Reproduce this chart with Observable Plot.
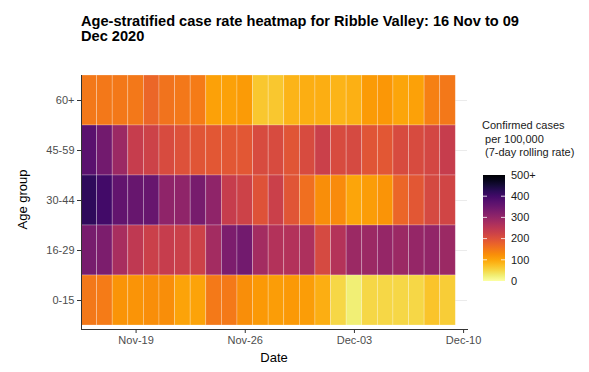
<!DOCTYPE html>
<html><head><meta charset="utf-8">
<script src="https://cdn.jsdelivr.net/npm/d3@7"></script>
<script src="https://cdn.jsdelivr.net/npm/@observablehq/plot@0.6"></script>
<style>
body{margin:0;background:#fff;font-family:"Liberation Sans",Arial,sans-serif;}
#wrap{position:relative;width:589px;height:372px;overflow:hidden;}
#title{position:absolute;left:81px;top:14px;font-weight:bold;font-size:14.6px;line-height:15px;color:#000;white-space:nowrap;}
#xlab{position:absolute;left:81px;width:386px;top:350px;text-align:center;font-size:13px;color:#000;}
#ylab{position:absolute;left:-28px;top:192px;width:100px;text-align:center;font-size:13px;color:#000;transform:rotate(-90deg);}
#chart{position:absolute;left:0;top:0;}
#legend{position:absolute;left:0;top:0;}
</style></head><body>
<div id="wrap">
<div id="chart"></div>
<div id="title">Age-stratified case rate heatmap for Ribble Valley: 16 Nov to 09<br>Dec 2020</div>
<div id="xlab">Date</div>
<div id="ylab">Age group</div>
<div id="legend"></div>
</div>
<script>
const dates = ["2020-11-16","2020-11-17","2020-11-18","2020-11-19","2020-11-20","2020-11-21","2020-11-22","2020-11-23",
  "2020-11-24","2020-11-25","2020-11-26","2020-11-27","2020-11-28","2020-11-29","2020-11-30","2020-12-01",
  "2020-12-02","2020-12-03","2020-12-04","2020-12-05","2020-12-06","2020-12-07","2020-12-08","2020-12-09"];
const ageGroups = ["60+","45-59","30-44","16-29","0-15"];
const rate60plus = [150,150,150,150,170,155,150,145,105,105,110,65, 65,85,90,90,85,88,110,115,100,105,140,150];
const rate45to59 = [370,340,290,235,225,210,200,195,190,190,190,210, 210,195,210,230,210,212,195,190,210,210,215,235];
const rate30to44 = [420,400,360,355,355,305,305,335,305,235,225,198, 230,195,160,125,128,100,108,118,170,190,212,220];
const rate16to29 = [335,330,275,245,230,235,230,225,280,330,340,280, 260,260,268,212,258,290,290,298,290,298,302,290];
const rate0to15  = [150,145,118,118,125,125,102,102,148,148,125,112, 108,112,108,90,50,25,50,50,50,50,70,60];
const xTickDates = ["2020-11-19","2020-11-26","2020-12-03","2020-12-10"];
const legendTicks = [0,100,200,300,400,500];
const legendLabels = ["0","100","200","300","400","500+"];
const legendTitle = ["Confirmed cases"," per 100,000"," (7-day rolling rate)"];

const seriesByAge = {"60+":rate60plus,"45-59":rate45to59,"30-44":rate30to44,"16-29":rate16to29,"0-15":rate0to15};
const data = ageGroups.flatMap(a => dates.map((d,i) => ({date:new Date(d), age:a, rate:seriesByAge[a][i]})));
const halfDay = 12*3600*1000;
const colorOpts = {type:"linear", scheme:"inferno", reverse:true, domain:[0,500], clamp:true};

const chart = Plot.plot({
  width:589, height:372, marginLeft:81, marginRight:122, marginTop:75, marginBottom:43,
  style:{fontFamily:"'Liberation Sans', Arial, sans-serif", fontSize:"11px", color:"#4d4d4d", background:"transparent"},
  x:{type:"utc", domain:[new Date(Date.UTC(2020,10,15,12)), new Date(Date.UTC(2020,11,10,6))], label:null},
  y:{domain:ageGroups, paddingInner:0, paddingOuter:0.04, align:0, label:null},
  color:colorOpts,
  marks:[
    Plot.gridY({stroke:"#ebebeb", strokeOpacity:1, strokeWidth:1}),
    Plot.barX(data, {x1:d => new Date(+d.date - halfDay), x2:d => new Date(+d.date + halfDay), y:"age",
      fill:"rate", stroke:"white", strokeOpacity:0.35, strokeWidth:0.7, inset:0}),
    Plot.frame({anchor:"bottom", stroke:"#333"}),
    Plot.frame({anchor:"left", stroke:"#333"}),
    Plot.axisX({ticks:xTickDates.map(d => new Date(d)), tickFormat:d3.utcFormat("%b-%d"), tickSize:4, tickPadding:3,
      label:null, stroke:"#333", fill:"#4d4d4d"}),
    Plot.axisY({tickSize:4, tickPadding:3, label:null, stroke:"#333", fill:"#4d4d4d"})
  ]
});
document.getElementById("chart").append(chart);

// legend (colour bar)
const cscale = Plot.scale({color:colorOpts});
const ly = d3.scaleLinear([0,500],[281,175]);
const svg = d3.create("svg").attr("width",589).attr("height",372)
  .style("font-family","'Liberation Sans', Arial, sans-serif").style("font-size","11px");
const grad = svg.append("defs").append("linearGradient").attr("id","lg").attr("x1",0).attr("x2",0).attr("y1",1).attr("y2",0);
d3.range(0,1.0001,0.05).forEach(t => grad.append("stop").attr("offset",t).attr("stop-color",cscale.apply(t*500)));
svg.append("rect").attr("x",483).attr("y",ly(500)).attr("width",22).attr("height",ly(0)-ly(500)).attr("fill","url(#lg)");
legendTicks.slice(1,-1).forEach(v => {
  svg.append("line").attr("x1",483).attr("x2",487).attr("y1",ly(v)).attr("y2",ly(v)).attr("stroke","white").attr("stroke-opacity",0.8);
  svg.append("line").attr("x1",501).attr("x2",505).attr("y1",ly(v)).attr("y2",ly(v)).attr("stroke","white").attr("stroke-opacity",0.8);
});
legendTicks.forEach((v,i) => svg.append("text").attr("x",511).attr("y",ly(v)).attr("dy","0.35em").attr("fill","#1a1a1a").text(legendLabels[i]));
legendTitle.forEach((s,i) => svg.append("text").attr("x",482).attr("y",129+i*13.5).attr("fill","#1a1a1a").attr("xml:space","preserve").style("white-space","pre").text(s));
document.getElementById("legend").append(svg.node());
</script>
</body></html>
